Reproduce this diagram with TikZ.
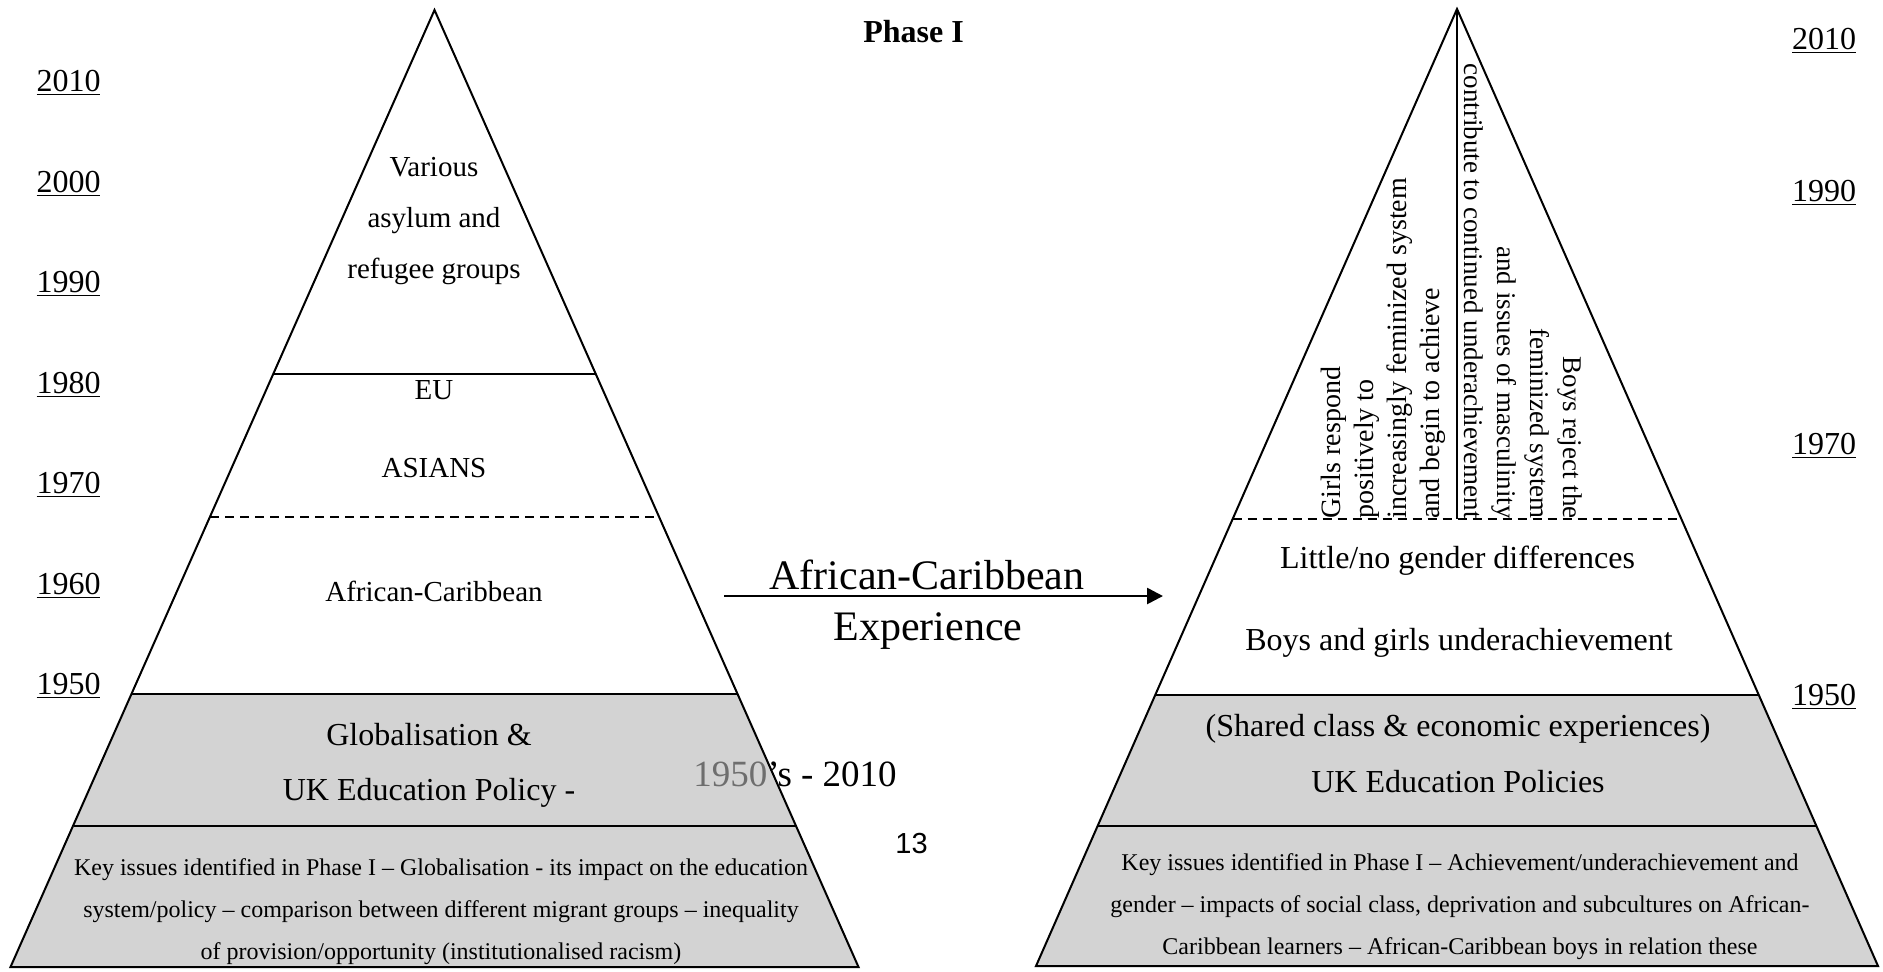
\documentclass[tikz,border=0pt]{standalone}
\usepackage{fontspec}
\setmainfont{Liberation Serif}
\newfontfamily\arialfont{Liberation Sans}
\usetikzlibrary{arrows.meta}
\definecolor{pyrgray}{RGB}{211,211,211}
\definecolor{yeargray}{RGB}{110,110,110}
\begin{document}
\begin{tikzpicture}[x=0.5pt,y=-0.5pt,
  edge/.style={line width=1pt, line join=miter},
  sepline/.style={line width=1pt},
  dashsep/.style={line width=0.9pt, dash pattern=on 4.5pt off 3pt},
  lbl/.style={inner sep=0pt, align=center},
  yr/.style={inner sep=0pt, anchor=base, font=\fontsize{16}{19}\selectfont},
  big/.style={lbl, font=\fontsize{16}{19}\selectfont},
  mid/.style={lbl, font=\fontsize{14.5}{25.5}\selectfont},
  key/.style={lbl, font=\fontsize{12}{21}\selectfont},
  vtext/.style={inner sep=0pt, font=\fontsize{14}{16.5}\selectfont},
]
\useasboundingbox (0,0) rectangle (1883,971);

% ---------- left pyramid ----------
\coordinate (LA) at (434.5,10);
\coordinate (L1l) at (273.3,374);  \coordinate (L1r) at (595.7,374);
\coordinate (L2l) at (210,517);    \coordinate (L2r) at (659,517);
\coordinate (L3l) at (132,694);    \coordinate (L3r) at (737,694);
\coordinate (L4l) at (73.5,826);   \coordinate (L4r) at (795.5,826);
\coordinate (L5l) at (10.5,967);   \coordinate (L5r) at (858.5,967);
\fill[pyrgray] (L3l) -- (L3r) -- (L5r) -- (L5l) -- cycle;
\draw[edge] (L5l) -- (LA) -- (L5r) -- cycle;
\draw[sepline] (L1l) -- (L1r);
\draw[dashsep] (L2l) -- (L2r);
\draw[sepline] (L3l) -- (L3r);
\draw[sepline] (L4l) -- (L4r);

% ---------- right pyramid ----------
\coordinate (RA) at (1457,9);
\coordinate (RM) at (1457,519);
\coordinate (R2l) at (1232.6,519); \coordinate (R2r) at (1681.4,519);
\coordinate (R3l) at (1155.2,695); \coordinate (R3r) at (1758.8,695);
\coordinate (R4l) at (1097.5,826); \coordinate (R4r) at (1816.5,826);
\coordinate (R5l) at (1036,966);   \coordinate (R5r) at (1878,966);
\fill[pyrgray] (R3l) -- (R3r) -- (R5r) -- (R5l) -- cycle;
\draw[edge] (R5l) -- (RA) -- (R5r) -- cycle;
\draw[sepline] (RA) -- (RM);
\draw[dashsep] (R2l) -- (R2r);
\draw[sepline] (R3l) -- (R3r);
\draw[sepline] (R4l) -- (R4r);

% ---------- left texts ----------
\node[mid] (various) at (434,221) {Various\\asylum and\\refugee groups};
\node[mid] (eu) at (434,390) {EU};
\node[mid] (asians) at (434,468) {ASIANS};
\node[mid] (afc) at (434,591) {African-Caribbean};
\node[big] (glob) at (429,735) {Globalisation \&};
\node[big] (ukep) at (429,793) {UK Education Policy -};
\node[key] (lkey) at (441,912) {Key issues identified in Phase I – Globalisation - its impact on the education\\system/policy – comparison between different migrant groups – inequality\\of provision/opportunity (institutionalised racism)};

% ---------- right texts ----------
\node[vtext, rotate=90, anchor=north west, align=left] (girls) at (1321,519)
  {Girls respond\\positively to\\increasingly feminized system\\and begin to achieve};
\node[vtext, rotate=-90, anchor=north east, align=right, font=\fontsize{13.5}{16.5}\selectfont] (boys) at (1583,519)
  {Boys reject the\\feminized system\\and issues of masculinity\\contribute to continued underachievement};
\node[big] (little) at (1457.5,561) {Little/no gender differences};
\node[big] (under) at (1459,643) {Boys and girls underachievement};
\node[big] (shared) at (1458,729) {(Shared class \& economic experiences)};
\node[big] (ukpol) at (1458,782) {UK Education Policies};
\node[key] (rkey) at (1460,907) {Key issues identified in Phase I – Achievement/underachievement and\\gender – impacts of social class, deprivation and subcultures on African-\\Caribbean learners – African-Caribbean boys in relation these};

% ---------- arrow ----------
\coordinate (AS) at (724,596);
\coordinate (AE) at (1163,596);
\draw[line width=1.3pt, -{Triangle[length=8pt,width=8pt]}] (AS) -- (AE);
\node[lbl, font=\fontsize{21}{26}\selectfont] (ac1) at (927,575) {African-Caribbean};
\node[lbl, font=\fontsize{21}{26}\selectfont] (ac2) at (928,631) {Experience};

% ---------- titles and extras ----------
\node[lbl, font=\bfseries\fontsize{16}{19}\selectfont] (phase) at (913.5,32) {Phase I};
\node[lbl, font=\fontsize{18.5}{22}\selectfont] (span) at (795,774.5) {\textcolor{yeargray}{1950}’s - 2010};
\node[lbl, font=\arialfont\fontsize{14.5}{17}\selectfont] (pg) at (911.5,843) {13};

% ---------- years ----------
\node[yr] (y2010l) at (68.5,91)  {\underline{2010}};
\node[yr] (y2000l) at (68.5,192) {\underline{2000}};
\node[yr] (y1990l) at (68.5,292) {\underline{1990}};
\node[yr] (y1980l) at (68.5,393) {\underline{1980}};
\node[yr] (y1970l) at (68.5,493) {\underline{1970}};
\node[yr] (y1960l) at (68.5,594) {\underline{1960}};
\node[yr] (y1950l) at (68.5,694) {\underline{1950}};
\node[yr] (y2010r) at (1824,49)  {\underline{2010}};
\node[yr] (y1990r) at (1824,201) {\underline{1990}};
\node[yr] (y1970r) at (1824,454) {\underline{1970}};
\node[yr] (y1950r) at (1824,705) {\underline{1950}};
\end{tikzpicture}
\end{document}
